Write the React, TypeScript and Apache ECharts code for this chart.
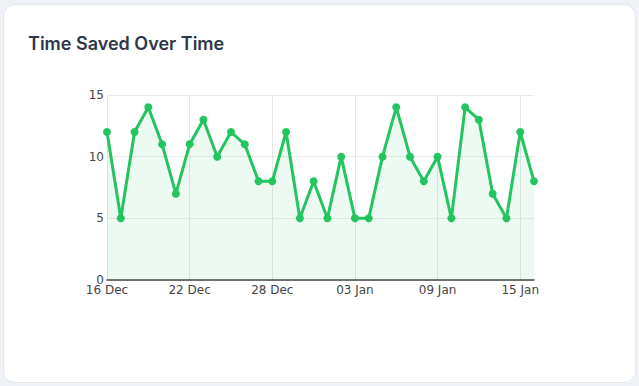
import React, { useEffect, useRef } from "react";
import * as echarts from "echarts";

const categories = [
  "16 Dec", "17 Dec", "18 Dec", "19 Dec", "20 Dec", "21 Dec", "22 Dec", "23 Dec",
  "24 Dec", "25 Dec", "26 Dec", "27 Dec", "28 Dec", "29 Dec", "30 Dec", "31 Dec",
  "01 Jan", "02 Jan", "03 Jan", "04 Jan", "05 Jan", "06 Jan", "07 Jan", "08 Jan",
  "09 Jan", "10 Jan", "11 Jan", "12 Jan", "13 Jan", "14 Jan", "15 Jan", "16 Jan",
];
const timeSaved = [
  12, 5, 12, 14, 11, 7, 11, 13, 10, 12, 11, 8, 8, 12, 5, 8,
  5, 10, 5, 5, 10, 14, 10, 8, 10, 5, 14, 13, 7, 5, 12, 8,
];
const yTicks = { min: 0, max: 15, interval: 5 };
const title = "Time Saved Over Time";

export default function App() {
  const ref = useRef<HTMLDivElement>(null);
  useEffect(() => {
    if (!ref.current) return;
    const chart = echarts.init(ref.current, undefined, { renderer: "svg" });
    const labelInterval = (i: number) => i % 6 === 0;
    chart.setOption({
      animation: false,
      grid: { left: 107, right: 105, top: 95, bottom: 106, containLabel: false },
      xAxis: {
        type: "category",
        data: categories,
        boundaryGap: false,
        axisLine: { lineStyle: { color: "#444", width: 1.5 } },
        axisTick: { show: false },
        axisLabel: {
          interval: labelInterval,
          color: "#444",
          fontSize: 12,
          fontFamily: "DejaVu Sans",
          margin: 4,
          hideOverlap: false,
        },
        splitLine: { show: true, interval: labelInterval, lineStyle: { color: "#e6e6e6", width: 1 } },
      },
      yAxis: {
        type: "value",
        min: yTicks.min,
        max: yTicks.max,
        interval: yTicks.interval,
        axisLine: { show: false },
        axisTick: { show: false },
        axisLabel: { color: "#444", fontSize: 12, fontFamily: "DejaVu Sans", margin: 3 },
        splitLine: { lineStyle: { color: "#ebebeb", width: 1 } },
      },
      series: [
        {
          type: "line",
          data: timeSaved,
          symbol: "circle",
          symbolSize: 8,
          lineStyle: { color: "#22c55e", width: 3 },
          itemStyle: { color: "#22c55e" },
          areaStyle: { color: "rgba(34,197,94,0.12)" },
        },
      ],
    });
    return () => chart.dispose();
  }, []);

  return (
    <div style={{ position: "fixed", left: 0, top: 0, width: 639, height: 386, background: "#eef1f5", overflow: "hidden" }}>
      <div
        style={{
          position: "absolute",
          left: 3,
          top: 4,
          width: 633,
          height: 379,
          background: "#fff",
          borderRadius: 12,
          border: "1px solid #e3e7ec",
          boxSizing: "border-box",
        }}
      />
      <div
        style={{
          position: "absolute",
          left: 28,
          top: 34,
          fontFamily: "Inter, sans-serif",
          fontWeight: 600,
          fontSize: 18,
          color: "#2d3748",
          lineHeight: "20px",
        }}
      >
        {title}
      </div>
      <div ref={ref} style={{ position: "absolute", left: 0, top: 0, width: 639, height: 386 }} />
    </div>
  );
}
